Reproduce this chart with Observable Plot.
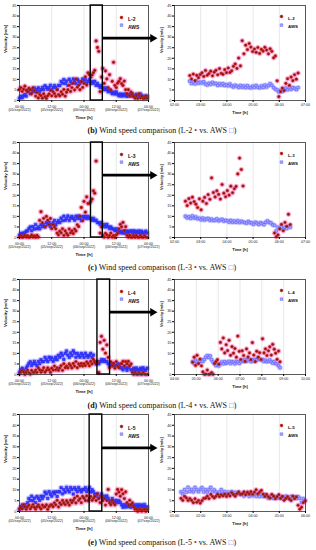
<!DOCTYPE html>
<html><head><meta charset="utf-8">
<script src="https://cdn.jsdelivr.net/npm/d3@7"></script>
<script src="https://cdn.jsdelivr.net/npm/@observablehq/plot@0.6"></script>
<style>
html,body{margin:0;padding:0;background:#fff;}
#fig{position:relative;width:316px;height:550px;overflow:hidden;background:#fff;}
.cap{position:absolute;left:4px;width:316px;text-align:center;font-family:"Liberation Serif","DejaVu Serif",serif;font-size:8px;line-height:10px;color:#111;white-space:nowrap;}
.cap b{font-weight:bold}
.red{color:#c0201a}
.blue{color:#6a6aff}
</style></head><body><div id="fig"></div>
<script>
// ---------- axis / label data ----------
const yTicks = [0,5,10,15,20,25,30,35,40,45];
const leftTickHours = [0,12,24,36,48];
const leftTickTimes = ["00:00","12:00","00:00","12:00","00:00"];
const leftTickDates = ["(05/sep/2022)","(05/sep/2022)","(06/sep/2022)","(06/sep/2022)","(07/sep/2022)"];
const leftStepHours = 0.5;
const rightStepMinutes = 4;
const seriesNames = ["L-2","L-3","L-4","L-5"];
const captionLetters = ["b","c","d","e"];
const zoomWindows = [[26.5,31],[26.6,31],[29,33.7],[26.1,30.8]];
const rightTicks = [
  ["02:00","03:00","04:00","05:00","06:00","07:00"],
  ["02:00","03:00","04:00","05:00","06:00","07:00"],
  ["04:00","05:00","06:00","07:00","08:00","09:00","10:00"],
  ["01:00","02:00","03:00","04:00","05:00","06:00"]
];
const rightStart = ["02:35","02:25","04:50","01:15"];
const arrowLevel = 29.5;

// ---------- left panels (48 h, 30-min samples) ----------
const L2_left = [5.2,6.1,4.3,5.4,6.8,4.9,4.2,5.8,5.1,3.2,6.0,4.7, 2.1,3.8,1.2,2.9,2.3,1.1,3.2,1.8,1.0,2.2, 3.1,4.8,2.2,4.1,3.3,2.0,5.1,2.8, 2.2,4.1,3.0,5.2,2.1,3.9, 5.1,7.2,4.3,6.1,8.2,5.0,10.1,6.3, 7.2,5.1,9.0,6.2, 8.1,11.2,7.3,13.1, 12.2,11.0, 12.1,13.2,14.3,28.2,25.1,23.3,4.2,11.1, 15.2,8.1,14.0,10.2, 6.1,12.2,5.0,9.1, 18.1,7.2, 6.1,8.2,9.1,10.3,8.0,7.1,9.2,5.1, 3.2,5.1,2.2,4.0,3.1,2.0, 1.1,2.2,1.0,3.1,1.2,2.0,0.9,1.1,2.1,1.0];
const AWS1_left = [1.1,2.0,1.3,2.2,2.9,2.1, 4.1,5.0,3.2,5.1,4.2,5.9,4.1,5.2,6.0,4.3,5.1,6.2, 5.1,7.0,6.2,5.3,6.1,7.2,5.0,6.1,7.1,6.2,5.2,7.1, 7.1,9.0,8.2,9.9,8.1,9.2,7.2,10.1,9.0,8.1,10.2,9.1,8.0,10.1,9.2,8.1,9.0,10.2, 9.1,10.0,8.2,9.1,9.9,8.1,9.0,8.2,9.1,7.2, 8.1,7.0,6.2,7.1,6.0,5.1, 6.0,5.1,4.2,5.0,4.1,3.2, 4.0,3.1,4.1,3.0,2.2,3.1, 2.1,3.0,2.2,3.1,2.0,2.2,3.0,2.1,3.1,2.0,2.2,3.0,2.1,2.0,3.1,2.2,2.0,1.2,2.1,2.0];
const L3_left = [0.2,1.0,0.1,0.3,1.1,0.2,0.9,0.1,0.3,1.2,0.2,0.8,0.1,1.0,0.2, 8.1,12.2,7.0, 9.1,5.2,10.0,8.2,6.1,9.0,4.2,6.1,5.0,4.1, 2.1,1.2,3.0,2.2,4.1,1.0,3.1,2.0,1.1,4.0,2.2,3.1,1.9,4.0, 3.1,6.0,5.2, 10.1,14.2,8.0,17.1,12.0,19.2,16.1, 16.2,17.1,18.2,22.1,21.0,36.2,null,null,2.1,5.0, 1.1,0.2,2.0,1.2,0.1,0.9,2.1,0.2,1.0,0.1,1.2,2.0, 4.1,6.2,5.0,7.1,3.2,5.1, 1.0,0.2,1.1,0.1,0.2,0.9,0.1,1.0,0.2,0.1,1.1,0.2,0.1,0.9,0.2,0.1];
const AWS2_left = [1.1,2.0,1.2,2.1,2.2,3.0, 3.1,4.2,5.0,3.2,5.1,4.0,6.1,4.2,5.0,4.1,6.0,5.1, 6.1,5.0,7.1,6.0,7.2,5.1,6.2,7.0,8.1,6.0,7.1,8.0, 7.1,9.2,8.0,10.1,8.2,9.0,10.2,8.1,9.2,10.0,9.1,8.2,10.1,9.0,10.2,9.1,8.0,10.0, 9.2,10.1,9.0,10.0,9.1,9.0,8.2,9.1,8.0,8.2, 7.1,7.0,6.2,7.1,5.2,6.1,5.0,6.2, 5.1,4.2,5.0,4.1,4.0,3.2,4.1,3.0, 3.1,2.2,3.0,2.1,3.2,2.0,3.1,2.2,3.0,3.1,2.0,3.2,2.1,3.0,2.2,3.1,2.0,3.0,2.1,2.2,3.0,2.1];
const L4_left = [0.2,1.1,2.0,1.2,0.1,1.0,2.1,0.9,0.2,2.0,1.1,1.0, 2.1,1.0,3.1,2.2,1.1,2.0,3.2,1.1,2.0,3.1,2.2,1.0,3.0,2.1,4.0,2.2,3.1,2.0, 3.1,4.2,2.0,5.1,3.2,4.0,3.1,5.0,4.2,3.1,5.2,4.0,6.1,3.2,5.0,4.1,5.2,4.0, 5.1,4.2,6.0,5.2,4.1,6.2,5.0,7.1,6.0,5.2, 6.1,1.0,15.2,18.1,12.0,16.2,10.1,14.0, 8.1,3.2,6.0,4.1,5.2,3.0,6.1,4.0,3.2,5.0, 5.1,6.2,4.0,6.1,5.0,6.2,4.1,5.0, 1.0,0.1,1.1,0.2,0.1,0.9,0.2,0.1,1.0,0.2,0.1,0.1];
const AWS3_left = [1.1,2.2,3.0,2.1,1.2,3.1, 4.1,5.2,6.0,4.2,5.1,6.2,5.0,4.1,6.2,5.1,7.0,6.1, 6.2,8.1,7.0,6.1,8.2,7.1,8.0,6.2,7.1,8.2,7.0,9.1, 8.2,10.1,9.0,7.2,10.0,11.1,9.2,8.1,10.2,9.0,11.2,10.1,8.2,10.0, 9.1,8.2,10.0,9.2,8.1,10.1,9.0,8.2,9.1,10.0,8.1,9.2, 6.1,5.0,6.2,5.1, 6.0,7.1,6.2,7.0,6.1,6.2, 5.1,4.2,5.0,4.1,5.2,4.0,4.2,5.1,4.0,3.2, 3.1,2.2,4.0,3.1,2.0,3.2,4.1,2.2, 2.1,3.0,2.2,3.1,2.0,2.2,3.0,2.1,3.2,2.0,2.1,3.0];
const L5_left = [1.1,2.0,1.2,3.1,2.2,1.0,2.1,3.0,1.2,2.1,3.2,2.0,1.1,2.2,3.1,2.0,1.2,3.0,2.1,2.2,3.1,1.0,2.2,3.0, 3.1,2.2,4.0,3.1,5.2,2.1,4.0,3.2,5.1,4.0,3.2,5.0,4.1,3.0,5.2,4.1, 5.1,6.2,4.0,7.1,5.2,6.0,4.1,7.0,6.2,5.1,7.2,5.0,6.1,7.0,5.2,6.1, 7.0,5.1,8.2,6.0,4.1,7.2,5.0,6.1, 3.0,5.1,10.2,4.0,3.1,5.2,4.0,3.1, 8.1,10.2,9.0,7.1,10.1,8.2,6.0,9.1, 4.1,3.0,5.2,3.1,4.0,2.1, 1.0,1.2,0.1,1.1,0.9,0.2,1.0,1.1,0.1,0.9];
const AWS4_left = [1.1,2.2,3.0,2.1,3.1,2.2, 4.1,6.0,5.2,7.1,5.0,6.2,4.1,7.0,6.1,5.2,7.1,6.0, 7.1,9.0,8.2,6.1,9.2,8.0,7.1,9.0,8.2,9.1,7.0,9.2, 9.1,11.0,8.2,10.1,9.0,11.2,10.0,9.1,11.1,10.2,8.1,11.0,10.1,9.2,11.1,10.0,9.1,10.2, 10.1,11.0,9.2,10.1,11.2,9.0,10.1,9.2, 8.1,7.0,8.2,6.1,7.0,8.1,6.2,7.1,6.0,7.2, 6.1,5.0,4.2,6.0,5.1,4.0,5.2,4.1,5.0,4.2, 3.1,2.0,3.2,2.1,3.0,2.2,3.1,2.0,3.2,3.0,2.1,3.1, 2.0,3.1,2.2,3.0,2.1,3.2,2.0,2.1];

// ---------- right panels (zoom window, 4-min samples) ----------
const L2_right = [11.8,10.2,12.5,9.4,11.9,10.8,12.3, 13.1,11.4,14.2,12.0,12.8,13.9,11.7,13.4, 14.3,12.2,15.1,12.9,12.4,14.6,13.2, 15.4,13.3,14.1,16.2, 17.3,15.2,20.1,16.4, 28.3,22.1, 26.2,24.1,27.0,25.3,23.2, 24.4,22.8,25.1,22.3,24.2,23.4,25.2,23.9,22.1,24.5,23.3, 20.2,21.1, 9.3,1.8, 4.2,5.9,4.7, 8.1,10.3,7.2,11.1,9.4, 12.2,10.1,13.0];
const AWS1_right = [9.2,8.1,8.8,7.9,9.3,8.2,8.7, 8.3,8.9,7.8,7.4,8.2,7.7,8.6,7.9, 8.1,7.2,7.9,7.3,8.0,7.1,7.5, 7.0,7.8,6.9,6.4,7.2,6.8,6.2,7.1, 6.3,6.9,6.1,7.0,6.2,6.0,6.8, 6.2,7.1,6.3,6.0,6.9,6.2,7.3,6.4,7.1,7.9,7.2, 6.1,5.4,5.0,4.1, 4.8,4.3,5.2,5.9,5.1,6.0,5.3,6.1,5.8,5.2,6.1];
const L3_right = [17.2,15.1,18.4,16.3,19.1,17.0,15.8, 14.2,18.3,13.1,17.2,19.0,16.1, 20.3,18.1,28.2,21.3, 19.2,22.1,20.4,18.2,25.1,21.0,19.3, 22.2,20.1,24.3,21.2,23.1, 24.2,30.1,37.6,32.2,24.4, null,null,null,null,null,null,null,null,null,null,null,null,null,null,null,null,null, 2.1,0.3,1.2, 4.1,6.2,3.2,7.1,5.3,11.0,6.1];
const AWS2_right = [10.1,9.3,9.8,9.1,10.2,9.2,9.7, 8.9,9.1,8.4,9.2,8.3,8.8, 9.0,8.2,8.7,8.1, 8.2,8.8,7.9,8.3,8.6,7.8,8.1, 7.9,7.3,8.1,7.2,7.8, 7.2,7.9,7.1,7.7,7.3, 7.1,6.8,7.6,7.0,6.9,6.3,7.2,6.8,6.2,7.0,6.6,6.1,7.2,7.8,7.1,6.9,6.0, 5.8,3.1,4.9, 4.2,5.1,3.9,4.8,4.3,5.2,4.9];
const L4_right = [5.8,8.2,4.3,9.1,5.2,7.3,4.1, 1.2,0.1,0.2,2.1,0.1,0.2,0.9,0.1, 5.2,6.1,7.0,4.9, 15.2,12.1,17.3,10.2,14.1,11.3,16.2, 9.1,13.2,10.1,12.3,8.2,18.2,11.0, 7.1,11.2,9.0,6.2,12.1,8.3,10.2,7.0, 15.1,9.2,6.1,11.0,8.2,10.3,7.1, 16.9,10.2,12.1,9.0, 11.2,13.1,9.2,14.3,12.0,10.1, 7.2,11.1,6.0];
const AWS3_right = [6.1,5.2,6.8,5.9,5.3,6.2,6.9, 6.2,7.1,8.2,8.9,8.1,8.8,7.0,5.9, 5.1,4.2,4.8,4.1, 5.2,5.9,5.1,6.1,5.3,5.8,6.2, 5.2,6.1,5.8,5.1,6.2,5.9,5.3, 6.1,6.8,6.2,7.1,6.3,6.9,7.2,6.1, 7.0,6.3,7.1,6.8,7.9,7.2,6.9, 7.1,6.2,6.8,6.1, 6.3,6.9,6.0,5.4,6.1,5.2, 5.0,4.1,3.2];
const L5_right = [6.1,5.2,7.0,6.3,5.1,6.0, 5.2,4.1,5.9,4.3,5.1,3.9,5.0,6.1, 6.2,7.1,6.0,7.9,7.0,6.3, 7.1,8.0,6.9,7.8,7.2,8.1,7.0, 8.1,7.2,8.8,7.9,7.1,8.2,9.0,7.9, 8.2,9.1,7.8,8.9,8.1,9.2,8.0, 9.0,10.1,8.2,9.1,9.8, 8.1,7.0,7.9,6.8,6.2,7.9,7.1,6.0,6.9,7.8, 6.1,7.0,5.2,6.1,6.9,5.8,5.1,7.1,6.0,6.8, 2.9,1.1,2.0,4.1,4.9];
const AWS4_right = [9.1,8.2,10.1,9.0,11.2,9.3, 10.2,9.1,11.1,10.0,9.2,10.3,11.0,9.1, 10.1,9.0,10.2,11.1,9.2,10.0, 9.1,8.2,9.0,10.1,8.3,9.2,8.1, 9.0,8.1,9.2,8.0,8.9,8.2,9.1,7.9, 8.1,7.2,8.0,8.9,7.1,8.2,7.3, 8.0,7.1,8.2,7.0,7.9, 7.1,7.9,6.9,6.2,7.1,6.8,6.1,7.0,6.2,6.9, 6.1,6.9,6.0,7.1,6.2,5.9,7.0,6.1,6.8,6.0, 6.9,6.1,4.2,5.9,5.1];

const leftL = [L2_left, L3_left, L4_left, L5_left];
const leftA = [AWS1_left, AWS2_left, AWS3_left, AWS4_left];
const rightL = [L2_right, L3_right, L4_right, L5_right];
const rightA = [AWS1_right, AWS2_right, AWS3_right, AWS4_right];

// ---------- helpers ----------
const hm = s => { const [h, m] = s.split(":").map(Number); return h + m / 60; };
const leftPts = arr => arr.map((v, i) => ({t: i * leftStepHours, v})).filter(d => d.v != null);
const rightPts = (arr, start) => arr.map((v, i) => ({t: hm(start) + i * rightStepMinutes / 60, v})).filter(d => d.v != null);

const RED_FILL = "#7e1a10", RED_STROKE = "#d8281e";

function panel(o) {
  const mt = 5;
  const marks = [
    Plot.gridX(o.xTicks, {stroke: "#d6d6d6", strokeOpacity: 1, strokeWidth: 0.6}),
    Plot.dot(o.A, {x: "t", y: "v", r: o.halo, fill: "#b8b8ff", fillOpacity: 0.75}),
    Plot.dot(o.L, {x: "t", y: "v", r: o.halo, fill: "#ff94d2", fillOpacity: 0.65}),
    Plot.dot(o.A, {x: "t", y: "v", symbol: "square", r: o.core, fill: o.isLeft ? "#3a3aff" : "#b4b4ff", stroke: o.isLeft ? "#2525f0" : "#5a5aff", strokeWidth: 0.6}),
    Plot.dot(o.L, {x: "t", y: "v", r: o.core, fill: RED_FILL, stroke: RED_STROKE, strokeWidth: 0.6}),
    Plot.frame({stroke: "#333", strokeWidth: 0.8}),
    Plot.axisY(yTicks, {tickSize: 2, tickPadding: 1, fontSize: 3.9, fill: "#222"}),
    Plot.axisX(o.xTicks, {tickSize: 2, tickPadding: o.tickPad, tickFormat: o.xFmt, fontSize: o.xfs, lineHeight: 0.95, fill: "#222"}),
    Plot.text(["Velocity [m/s]"], {text: d => d, frameAnchor: "left", rotate: -90, dx: o.ylabDx, fontSize: o.labFs, fontWeight: "bold", fill: "#111"}),
    Plot.text(["Time [h]"], {text: d => d, frameAnchor: "bottom", dy: o.xlabDy, fontSize: o.labFs, fontWeight: "bold", fill: "#111"}),
    // legend
    Plot.dot([o.name], {frameAnchor: "top-right", dx: o.legDx, dy: o.legDy1, r: 1.4, fill: RED_FILL, stroke: RED_STROKE, strokeWidth: 0.6}),
    Plot.text([o.name], {text: d => d, frameAnchor: "top-right", dx: o.legDx + 6.5, dy: o.legDy1, textAnchor: "start", fontSize: o.legFs, fontWeight: "bold", fill: "#111"}),
    Plot.dot(["AWS"], {frameAnchor: "top-right", dx: o.legDx, dy: o.legDy2, symbol: "square", r: 1.4, fill: "#b4b4ff", stroke: "#5a5aff", strokeWidth: 0.6}),
    Plot.text(["AWS"], {text: d => d, frameAnchor: "top-right", dx: o.legDx + 6.5, dy: o.legDy2, textAnchor: "start", fontSize: o.legFs, fontWeight: "bold", fill: "#111"})
  ];
  if (o.zoom) {
    const [z0, z1] = o.zoom;
    marks.push(
      Plot.rect([o.zoom], {x1: d => d[0], x2: d => d[1], y1: 0, y2: 45, fill: "none", stroke: "#000", strokeWidth: 1.4}),
      Plot.ruleY([arrowLevel], {y: d => d, x1: z1, x2: 49.4, stroke: "#000", strokeWidth: 2.7}),
      Plot.dot([arrowLevel], {x: 49.55, y: d => d, symbol: "triangle", rotate: 90, r: 3.1, fill: "#000", stroke: "none"})
    );
  }
  return Plot.plot({
    width: o.width, height: mt + o.fh + o.mb,
    marginTop: mt, marginLeft: o.ml, marginRight: o.mr, marginBottom: o.mb,
    style: {background: "transparent", overflow: "visible", fontFamily: "'Liberation Sans', Arial, sans-serif"},
    x: {domain: o.xDomain, label: null},
    y: {domain: [0, 45], label: null},
    marks
  });
}

const frameTops = [5, 141.5, 279, 414];
const frameHs = [95, 95, 95, 97];
const captionCenters = [131, 268, 406, 543];
const fig = document.getElementById("fig");

for (let k = 0; k < 4; k++) {
  const left = panel({
    isLeft: true, name: seriesNames[k],
    L: leftPts(leftL[k]), A: leftPts(leftA[k]),
    xDomain: [leftTickHours[0], leftTickHours[leftTickHours.length - 1]],
    xTicks: leftTickHours,
    xFmt: d => { const i = leftTickHours.indexOf(d); return leftTickTimes[i] + "\n" + leftTickDates[i]; },
    xfs: 3.6, tickPad: 3,
    zoom: zoomWindows[k],
    width: 158, ml: 19, mr: 10, mb: 24, fh: frameHs[k],
    halo: 3.0, core: 1.4,
    ylabDx: -14, xlabDy: 18.5, labFs: 4.4,
    legDx: -27, legDy1: 12, legDy2: 19.6, legFs: 5
  });
  left.style.position = "absolute";
  left.style.left = "0px";
  left.style.top = (frameTops[k] - 5) + "px";
  fig.appendChild(left);

  const rt = rightTicks[k].map(hm);
  const right = panel({
    isLeft: false, name: seriesNames[k],
    L: rightPts(rightL[k], rightStart[k]), A: rightPts(rightA[k], rightStart[k]),
    xDomain: [rt[0], rt[rt.length - 1]],
    xTicks: rt,
    xFmt: d => rightTicks[k][rt.indexOf(d)],
    xfs: 3.6, tickPad: 1.5,
    zoom: null,
    width: 160, ml: 18, mr: 11, mb: 18, fh: frameHs[k],
    halo: 2.7, core: 1.35,
    ylabDx: -13, xlabDy: 13.5, labFs: 4,
    legDx: -24, legDy1: 11, legDy2: 19.6, legFs: 4.4
  });
  right.style.position = "absolute";
  right.style.left = "156px";
  right.style.top = (frameTops[k] - 5) + "px";
  fig.appendChild(right);

  const cap = document.createElement("div");
  cap.className = "cap";
  cap.style.top = (captionCenters[k] - 5) + "px";
  cap.innerHTML = `<b>(${captionLetters[k]})</b> Wind speed comparison (${seriesNames[k]} <span class="red">&#8226;</span> vs. AWS <span class="blue">&#9633;</span>)`;
  fig.appendChild(cap);
}
</script>
</body></html>
